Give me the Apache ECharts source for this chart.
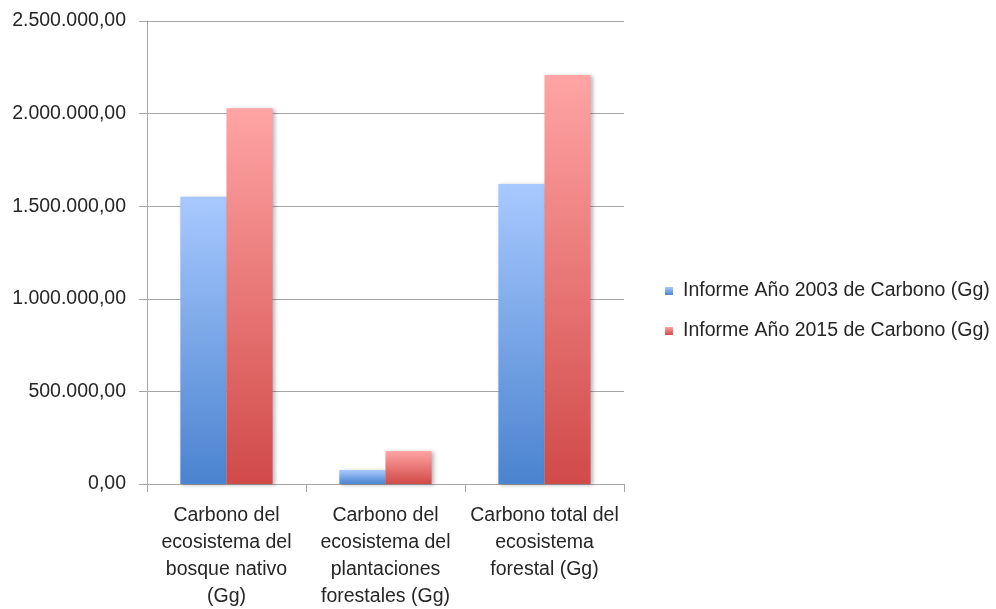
<!DOCTYPE html>
<html>
<head>
<meta charset="utf-8">
<script src="https://cdn.jsdelivr.net/npm/echarts@6/dist/echarts.min.js"></script>
<style>
  html, body { margin: 0; padding: 0; background: #fff; }
  #chart { width: 996px; height: 609px; }
</style>
</head>
<body>
<div id="chart"></div>
<script>
// Carbon stocks by ecosystem type (Gg), 2003 vs 2015 reports
const categories = [
  'Carbono del\necosistema del\nbosque nativo\n(Gg)',
  'Carbono del\necosistema del\nplantaciones\nforestales (Gg)',
  'Carbono total del\necosistema\nforestal (Gg)'
];
const seriesNames = [
  'Informe Año 2003 de Carbono (Gg)',
  'Informe Año 2015 de Carbono (Gg)'
];
const values2003 = [1551000, 75600, 1620000];
const values2015 = [2028600, 178000, 2208000];
const yTicks = { min: 0, max: 2500000, interval: 500000 };

const FONT = '"Liberation Sans", Arial, sans-serif';
const FONT_SIZE = 19.5;
const TEXT_COLOR = '#262626';
const GRID_COLOR = '#a6a6a6';

function fmt(v) {
  const parts = Math.round(v).toString().replace(/\B(?=(\d{3})+(?!\d))/g, '.');
  return parts + ',00';
}

function grad(top, bottom) {
  return new echarts.graphic.LinearGradient(0, 0, 0, 1, [
    { offset: 0, color: top },
    { offset: 1, color: bottom }
  ]);
}

const barShadow = {
  shadowBlur: 4,
  shadowOffsetX: 2,
  shadowOffsetY: 1,
  shadowColor: 'rgba(0,0,0,0.28)'
};

const chart = echarts.init(document.getElementById('chart'), null, { renderer: 'canvas' });
chart.setOption({
  animation: false,
  backgroundColor: '#ffffff',
  grid: {
    left: 147, right: 372, top: 21, bottom: 125,
    containLabel: false, outerBoundsMode: 'none'
  },
  legend: {
    orient: 'vertical',
    left: 660,
    top: 276,
    itemWidth: 8,
    itemHeight: 8,
    itemGap: 20,
    icon: 'rect',
    textStyle: { fontFamily: FONT, fontSize: FONT_SIZE, color: TEXT_COLOR, padding: [0, 0, 0, 5] },
    data: seriesNames
  },
  xAxis: {
    type: 'category',
    data: categories,
    axisLine: { lineStyle: { color: GRID_COLOR, width: 1 } },
    axisTick: { show: true, length: 8, alignWithLabel: false, lineStyle: { color: GRID_COLOR } },
    axisLabel: {
      fontFamily: FONT, fontSize: FONT_SIZE, color: TEXT_COLOR, lineHeight: 27,
      margin: 18, interval: 0
    }
  },
  yAxis: {
    type: 'value',
    min: yTicks.min,
    max: yTicks.max,
    interval: yTicks.interval,
    axisLine: { show: true, lineStyle: { color: GRID_COLOR, width: 1 } },
    axisTick: { show: true, length: 8, lineStyle: { color: GRID_COLOR } },
    splitLine: { show: true, lineStyle: { color: GRID_COLOR, width: 1 } },
    axisLabel: {
      fontFamily: FONT, fontSize: FONT_SIZE, color: TEXT_COLOR, margin: 21,
      formatter: fmt
    }
  },
  series: [
    {
      name: seriesNames[0],
      type: 'bar',
      data: values2003,
      barGap: '0%',
      barCategoryGap: '42%',
      itemStyle: Object.assign({ color: grad('#a8c9ff', '#4a83cf') }, barShadow)
    },
    {
      name: seriesNames[1],
      type: 'bar',
      data: values2015,
      barGap: '0%',
      barCategoryGap: '42%',
      itemStyle: Object.assign({ color: grad('#ffa4a4', '#d04a48') }, barShadow)
    }
  ]
});
</script>
</body>
</html>
